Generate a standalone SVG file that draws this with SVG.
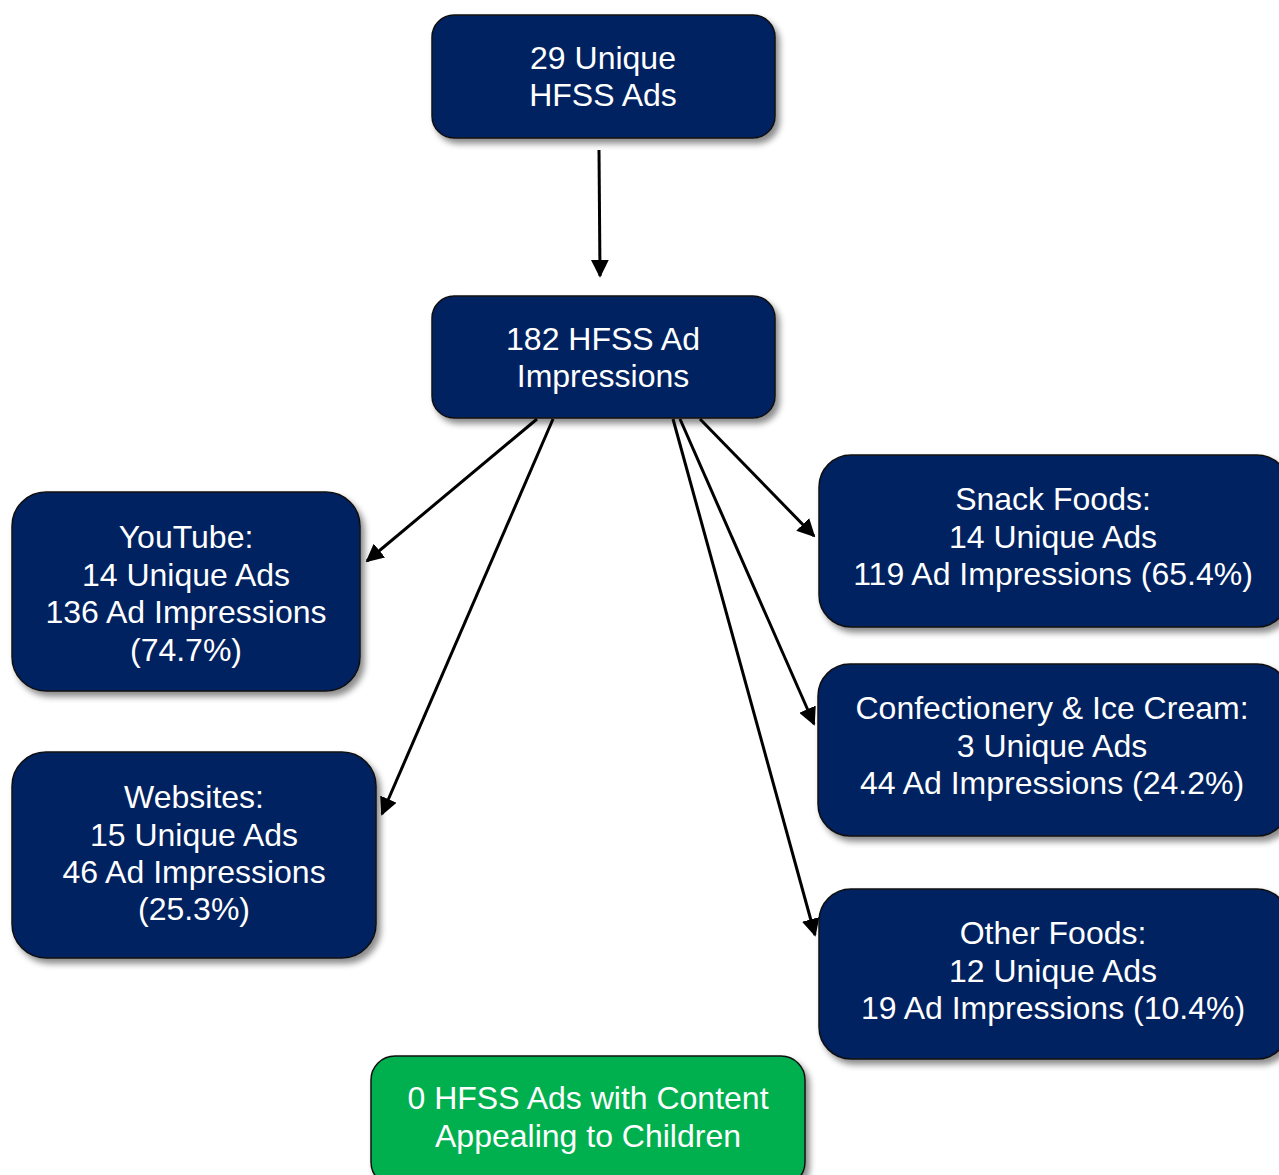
<svg xmlns="http://www.w3.org/2000/svg" width="1279" height="1175" viewBox="0 0 1279 1175">
<style>
.box{fill:#002060;stroke:#111;stroke-width:1.5;filter:url(#sh)}
.green{fill:#00B050;stroke:#111;stroke-width:1.5;filter:url(#sh)}
text{font-family:"Liberation Sans",Arial,sans-serif;font-size:32px;fill:#fff;text-anchor:middle}
.conn line{stroke:#000;stroke-width:3;marker-end:url(#ah)}
</style>
<defs>
<filter id="sh" x="-10%" y="-10%" width="130%" height="140%">
<feDropShadow dx="4" dy="5" stdDeviation="3" flood-color="#000" flood-opacity="0.45"/>
</filter>
<marker id="ah" viewBox="0 0 10 10" refX="9" refY="5" markerWidth="6" markerHeight="6" orient="auto" markerUnits="strokeWidth">
<path d="M0,0 L10,5 L0,10 Z" fill="#000"/>
</marker>
</defs>
<rect width="1279" height="1175" fill="#fff"/>
<g class="conn" id="connectors">
<line x1="599" y1="150" x2="600" y2="276"/>
<line x1="537" y1="419" x2="367" y2="561"/>
<line x1="553" y1="419" x2="382" y2="814"/>
<line x1="700" y1="419" x2="814" y2="536"/>
<line x1="680" y1="419" x2="814" y2="724"/>
<line x1="673" y1="419" x2="815" y2="935"/>
</g>
<g id="n-top">
<rect class="box" x="432" y="15" width="343" height="123" rx="22"/>
<text x="603" y="69">29 Unique</text>
<text x="603" y="106">HFSS Ads</text>
</g>
<g id="n-impr">
<rect class="box" x="432" y="296" width="343" height="122" rx="22"/>
<text x="603" y="350">182 HFSS Ad</text>
<text x="603" y="387">Impressions</text>
</g>
<g id="n-youtube">
<rect class="box" x="12" y="492" width="348" height="199" rx="34"/>
<text x="186" y="548">YouTube:</text>
<text x="186" y="586">14 Unique Ads</text>
<text x="186" y="623">136 Ad Impressions</text>
<text x="186" y="661">(74.7%)</text>
</g>
<g id="n-websites">
<rect class="box" x="12" y="752" width="364" height="206" rx="34"/>
<text x="194" y="808">Websites:</text>
<text x="194" y="846">15 Unique Ads</text>
<text x="194" y="883">46 Ad Impressions</text>
<text x="194" y="920">(25.3%)</text>
</g>
<g id="n-snack">
<rect class="box" x="819" y="455" width="470" height="172" rx="32"/>
<text x="1053" y="510">Snack Foods:</text>
<text x="1053" y="548">14 Unique Ads</text>
<text x="1053" y="585">119 Ad Impressions (65.4%)</text>
</g>
<g id="n-confect">
<rect class="box" x="818" y="664" width="471" height="172" rx="32"/>
<text x="1052" y="719">Confectionery &amp; Ice Cream:</text>
<text x="1052" y="757">3 Unique Ads</text>
<text x="1052" y="794">44 Ad Impressions (24.2%)</text>
</g>
<g id="n-other">
<rect class="box" x="819" y="889" width="470" height="170" rx="32"/>
<text x="1053" y="944">Other Foods:</text>
<text x="1053" y="982">12 Unique Ads</text>
<text x="1053" y="1019">19 Ad Impressions (10.4%)</text>
</g>
<g id="n-children">
<rect class="green" x="371" y="1056" width="434" height="130" rx="24"/>
<text x="588" y="1109">0 HFSS Ads with Content</text>
<text x="588" y="1147">Appealing to Children</text>
</g>
</svg>
